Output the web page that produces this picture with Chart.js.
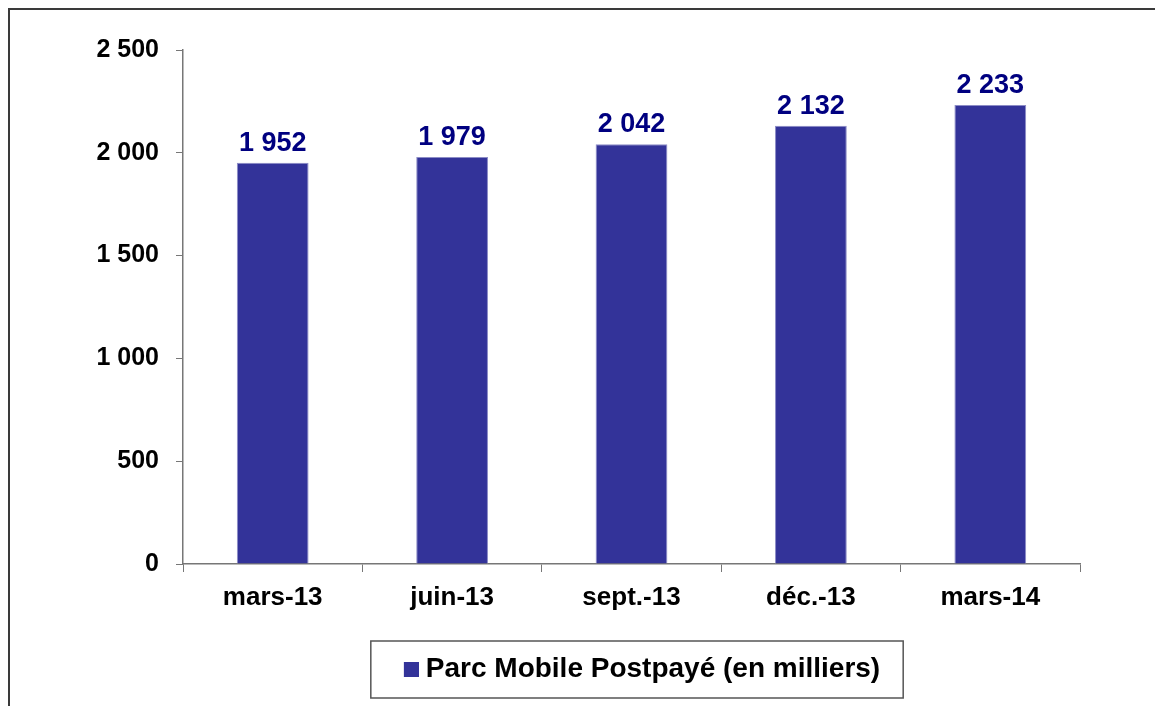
<!DOCTYPE html>
<html>
<head>
<meta charset="utf-8">
<script src="https://cdn.jsdelivr.net/npm/chart.js@4"></script>
<style>
  body { margin: 0; background: #fff; }
  #wrap { position: relative; width: 1155px; height: 706px; }
  #cadre { position: absolute; left: 8px; top: 8px; right: 0; bottom: 0; border-left: 2px solid #3a3a3a; border-top: 2px solid #3a3a3a; pointer-events: none; }
</style>
</head>
<body>
<div id="wrap">
  <canvas id="graphique" width="1155" height="706"></canvas>
  <div id="cadre"></div>
</div>
<script>
// données
const trimestres = ['mars-13', 'juin-13', 'sept.-13', 'déc.-13', 'mars-14'];
const parcPostpaye = [1952, 1979, 2042, 2132, 2233];
const nomSerie = 'Parc Mobile Postpayé (en milliers)';
const graduations = [0, 500, 1000, 1500, 2000, 2500];

const police = "'Liberation Sans', Arial, sans-serif";
const bleu = '#333399';

// petit carré de légende, décalé pour coller au texte
const carre = document.createElement('canvas');
carre.width = 29;
carre.height = 15;
const cctx = carre.getContext('2d');
cctx.fillStyle = bleu;
cctx.fillRect(14, 0, 15, 15);

function formatMilliers(v) {
  return String(v).replace(/\B(?=(\d{3})+(?!\d))/g, ' ');
}

const etiquettes = {
  id: 'etiquettes',
  afterDatasetsDraw(chart) {
    const ctx = chart.ctx;
    const meta = chart.getDatasetMeta(0);
    ctx.save();
    ctx.font = 'bold 27px ' + police;
    ctx.fillStyle = '#000080';
    ctx.textAlign = 'center';
    ctx.textBaseline = 'alphabetic';
    meta.data.forEach((barre, i) => {
      ctx.fillText(formatMilliers(parcPostpaye[i]), barre.x, barre.y - 12);
    });
    ctx.restore();
  }
};

const cadreLegende = {
  id: 'cadreLegende',
  afterLayout(chart) {
    // la légende est un peu à droite du centre dans l'original
    chart.legend.left += 7;
    chart.legend.right += 7;
  },
  afterDraw(chart) {
    const hb = chart.legend.legendHitBoxes[0];
    if (!hb) return;
    const ctx = chart.ctx;
    const gauche = hb.left + 7 - 33;
    const droite = hb.left + hb.width + 23;
    const milieu = hb.top + hb.height / 2;
    ctx.save();
    ctx.strokeStyle = '#555';
    ctx.lineWidth = 1.5;
    ctx.strokeRect(gauche, milieu - 28, droite - gauche, 57);
    ctx.restore();
  }
};

new Chart(document.getElementById('graphique'), {
  type: 'bar',
  data: {
    labels: trimestres,
    datasets: [{
      label: nomSerie,
      data: parcPostpaye,
      backgroundColor: bleu,
      borderColor: '#8c8cc6',
      borderWidth: 1,
      borderSkipped: 'bottom',
      barPercentage: 0.4,
      categoryPercentage: 1
    }]
  },
  options: {
    responsive: false,
    animation: false,
    layout: { padding: { left: 0, right: 75, top: 50, bottom: 13 } },
    plugins: {
      tooltip: { enabled: false },
      legend: {
        position: 'bottom',
        fullSize: false,
        labels: {
          usePointStyle: true,
          pointStyle: carre,
          pointStyleWidth: 15,
          boxHeight: 15,
          padding: 18,
          color: '#000',
          font: { family: police, size: 28, weight: 'bold' }
        }
      }
    },
    scales: {
      x: {
        grid: { drawOnChartArea: false, drawTicks: true, tickLength: 8, color: '#777', offset: true },
        border: { color: '#777', width: 1.5 },
        ticks: { color: '#000', padding: 10, font: { family: police, size: 26, weight: 'bold' } },
        afterFit(scale) { scale.height = 73; }
      },
      y: {
        min: 0,
        max: 2500,
        afterBuildTicks(scale) { scale.ticks = graduations.map(v => ({ value: v })); },
        grid: { drawOnChartArea: false, drawTicks: true, tickLength: 7, color: '#777' },
        border: { color: '#777', width: 1.5 },
        ticks: {
          color: '#000',
          padding: 17,
          font: { family: police, size: 25, weight: 'bold' },
          callback: v => formatMilliers(v)
        },
        afterFit(scale) { scale.width = 183; }
      }
    }
  },
  plugins: [etiquettes, cadreLegende]
});
</script>
</body>
</html>
